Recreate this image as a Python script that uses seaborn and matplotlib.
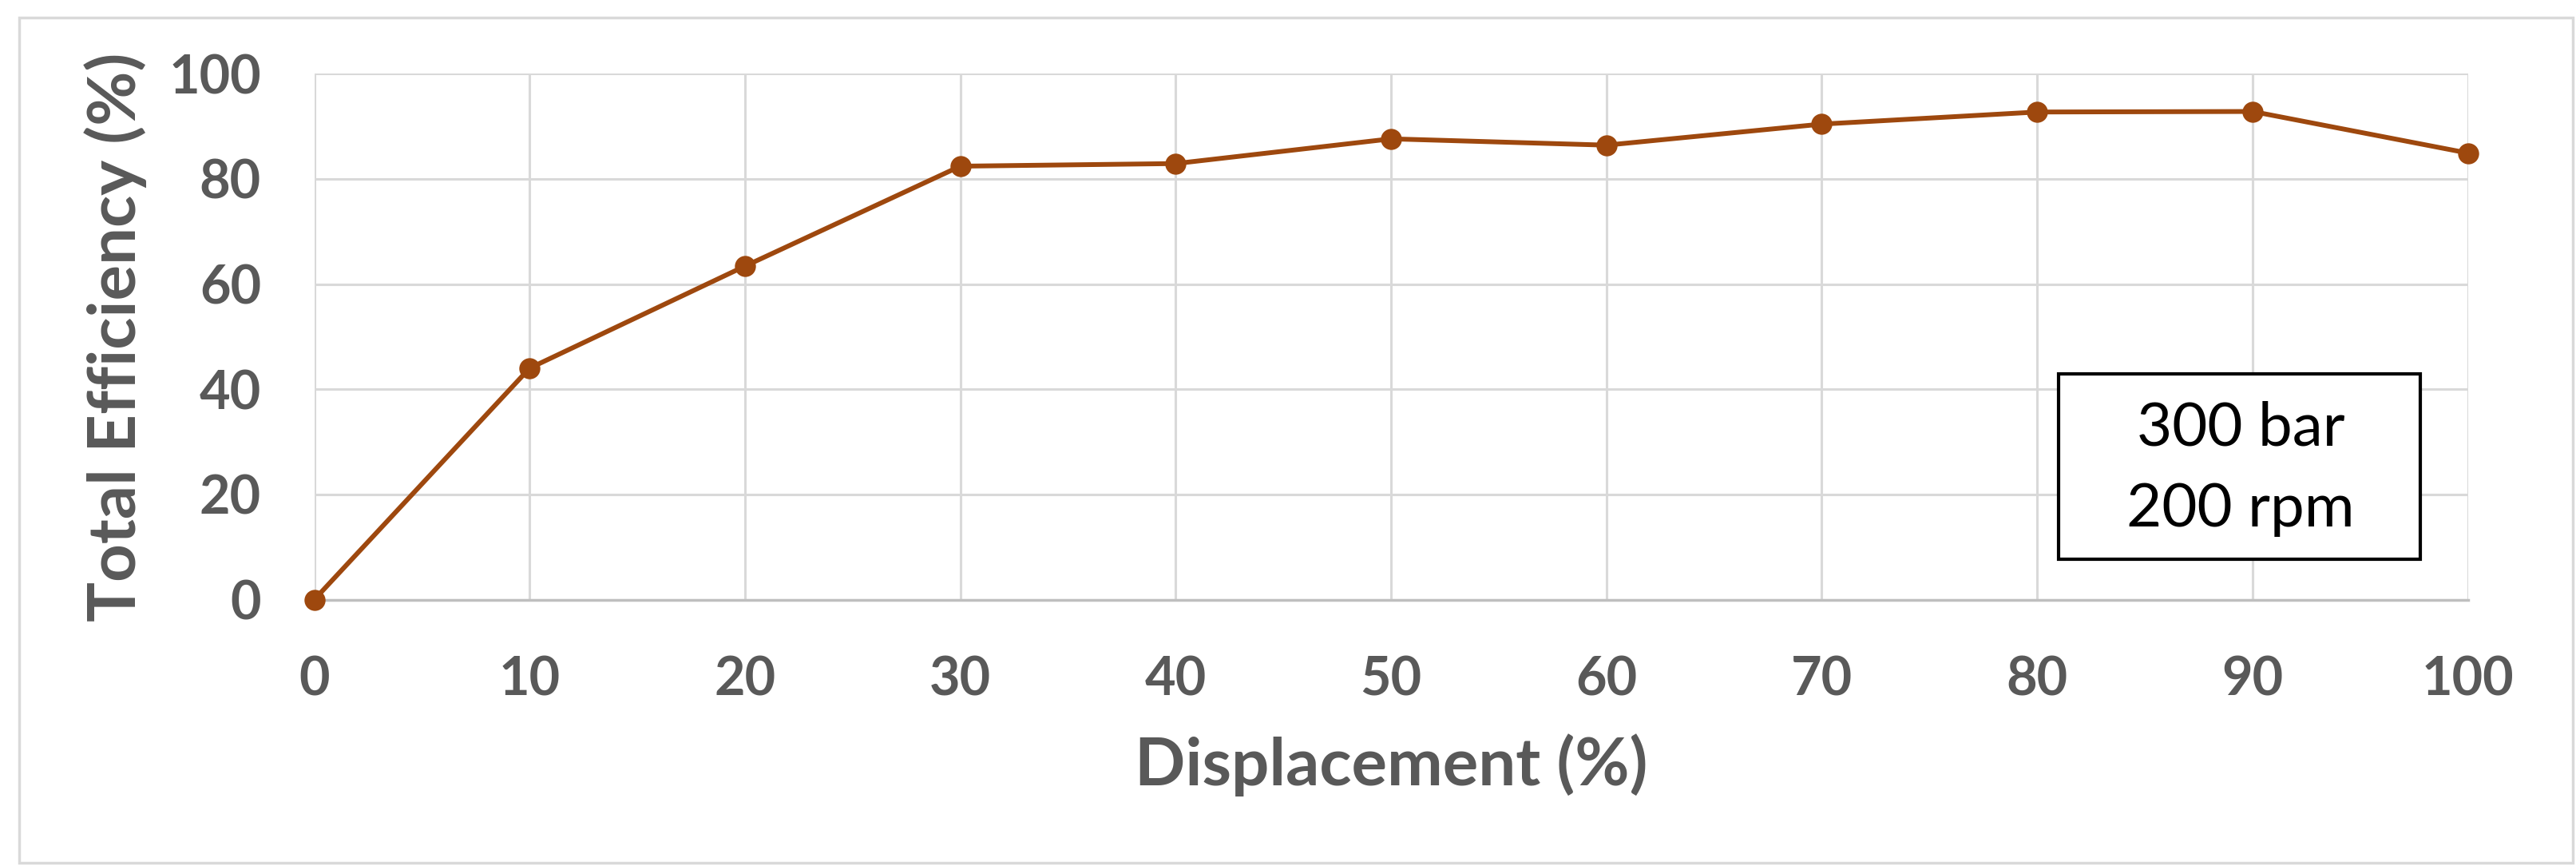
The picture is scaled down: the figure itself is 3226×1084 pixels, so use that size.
import matplotlib
matplotlib.use("Agg")
import matplotlib.pyplot as plt
import seaborn as sns
import pandas as pd
from matplotlib.patches import Rectangle

displacement = [0, 10, 20, 30, 40, 50, 60, 70, 80, 90, 100]
efficiency = [0, 44.0, 63.4, 82.4, 82.9, 87.6, 86.4, 90.4, 92.7, 92.8, 84.9]
x_ticks = [0, 10, 20, 30, 40, 50, 60, 70, 80, 90, 100]
y_ticks = [0, 20, 40, 60, 80, 100]

sns.set_theme(style="white")
plt.rcParams['font.family'] = ['Lato', 'DejaVu Sans']

df = pd.DataFrame({"Displacement": displacement, "Efficiency": efficiency})

fig = plt.figure(figsize=(32.26, 10.84), dpi=100)
ax = fig.add_axes([0.122, 0.3076, 0.836, 0.6074])

sns.lineplot(data=df, x="Displacement", y="Efficiency", ax=ax, color="#9E480E",
             linewidth=4.3, marker="o", markersize=19, markeredgewidth=0, zorder=5,
             clip_on=False)

ax.set_xlim(0, 100)
ax.set_ylim(0, 100)
ax.set_xticks(x_ticks)
ax.set_yticks(y_ticks)
ax.grid(True, color="#D9D9D9", linewidth=2.2)
ax.set_axisbelow(True)
for s in ["top", "right", "left"]:
    ax.spines[s].set_visible(False)
ax.spines["bottom"].set_color("#BFBFBF")
ax.spines["bottom"].set_linewidth(2.5)
ax.tick_params(axis="y", length=0, labelsize=48, labelcolor="#595959", pad=48)
ax.tick_params(axis="x", length=0, labelsize=48, labelcolor="#595959", pad=50)
for lab in ax.get_xticklabels() + ax.get_yticklabels():
    lab.set_fontweight("bold")

ax.set_xlabel("Displacement (%)", fontsize=60, fontweight="bold", color="#595959", labelpad=26)
ax.set_ylabel("Total Efficiency (%)", fontsize=60, fontweight="bold", color="#595959", labelpad=20)

ax.add_patch(Rectangle((0.810, 0.077), 0.168, 0.352, transform=ax.transAxes,
                       facecolor="white", edgecolor="black", linewidth=3, zorder=10))
ax.text(0.8945, 0.326, "300 bar", transform=ax.transAxes, ha="center", va="center",
        fontsize=55, color="black", zorder=11)
ax.text(0.8945, 0.172, "200 rpm", transform=ax.transAxes, ha="center", va="center",
        fontsize=55, color="black", zorder=11)

fig.patches.append(Rectangle((24/3226, 4/1084), 3198/3226, 1058/1084, transform=fig.transFigure,
                             fill=False, edgecolor="#D9D9D9", linewidth=2.5))

fig.savefig("out.png", dpi=100, facecolor="white")
